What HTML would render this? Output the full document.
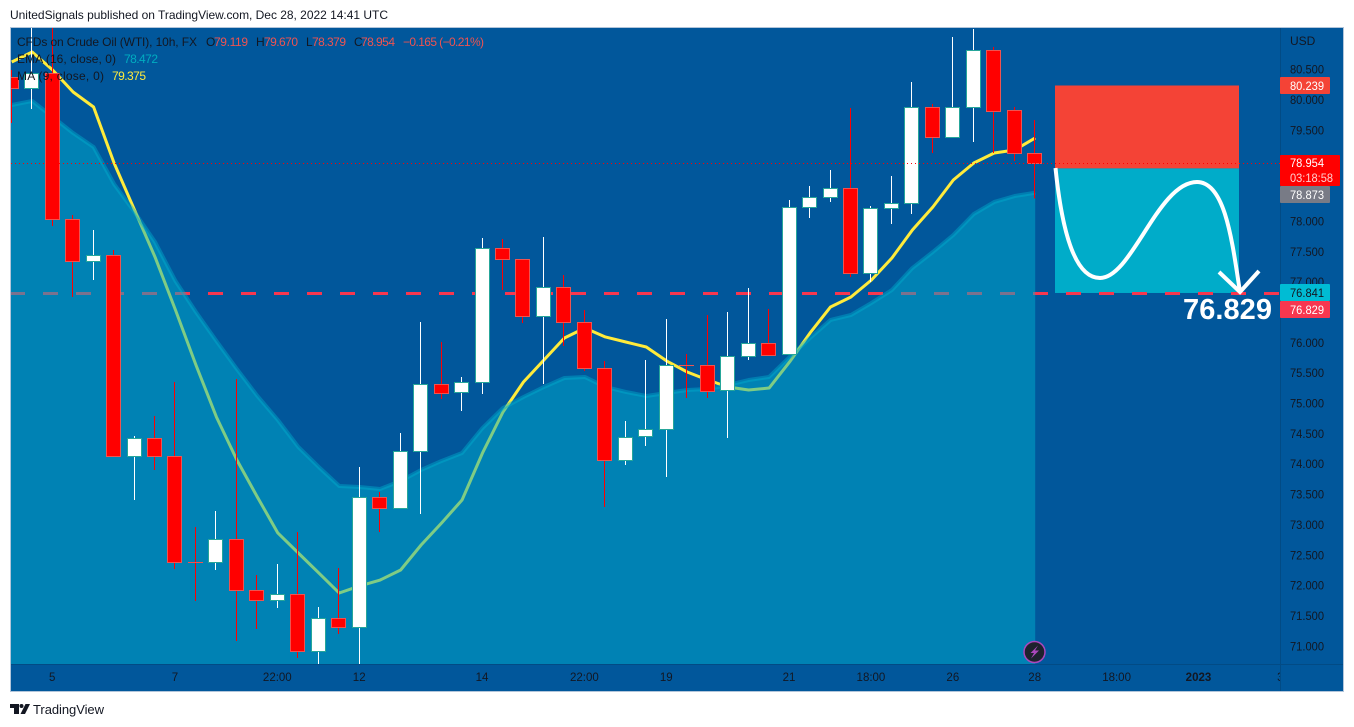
<!DOCTYPE html>
<html lang="en">
<head>
<meta charset="utf-8">
<title>CFDs on Crude Oil (WTI) chart</title>
<style>
html,body{margin:0;padding:0;background:#fff;width:1354px;height:727px;overflow:hidden}
svg{display:block;font-family:"Liberation Sans",sans-serif}
</style>
</head>
<body>
<svg id="chart" xmlns="http://www.w3.org/2000/svg" width="1354" height="727" viewBox="0 0 1354 727">
  <defs>
    <clipPath id="plot-clip"><rect x="11" y="28" width="1269" height="636"/></clipPath>
    <clipPath id="time-clip"><rect x="11" y="664" width="1269" height="27"/></clipPath>
  </defs>
  <text x="10" y="19" font-size="12" fill="#131722" textLength="378" lengthAdjust="spacing">UnitedSignals published on TradingView.com, Dec 28, 2022 14:41 UTC</text>
  <rect x="10.5" y="27.5" width="1333" height="664" fill="#01579b" stroke="#b2c5da" stroke-width="1"/>
  <g id="under-layer" clip-path="url(#plot-clip)"></g>
  <g id="candle-layer" clip-path="url(#plot-clip)"></g>
  <line x1="11" x2="1280" y1="163.5" y2="163.5" stroke="#ff0000" stroke-width="1" stroke-dasharray="1 3"/>
  <g fill="none" stroke="#ffffff" stroke-width="4" stroke-linecap="butt" stroke-linejoin="miter">
    <path d="M1055.5,168 C1062,232 1075,278 1100,278 C1132,278 1158,182 1197,182 C1225,182 1232,240 1240,292"/>
    <path d="M1219,272 L1240,292 L1259,271"/>
  </g>
  <text x="1183" y="319" font-size="29" font-weight="bold" fill="#ffffff" textLength="89" lengthAdjust="spacing">76.829</text>

  <line x1="1280.5" x2="1280.5" y1="28" y2="691" stroke="#024b85" stroke-width="1"/>
  <line x1="11" x2="1343" y1="664.5" y2="664.5" stroke="#024b85" stroke-width="1"/>
  <g id="price-axis" font-size="12" fill="#131722"></g>
  <g id="time-axis" font-size="11.5" fill="#131722" text-anchor="middle" clip-path="url(#time-clip)"></g>
  <text x="1290" y="45" font-size="12" fill="#131722">USD</text>

  <g font-size="12" fill="#131722">
    <text x="17" y="46" textLength="180" lengthAdjust="spacing">CFDs on Crude Oil (WTI), 10h, FX</text>
    <text x="206" y="46">O</text>
    <text x="214" y="46" fill="#ef5350" textLength="34" lengthAdjust="spacing">79.119</text>
    <text x="256" y="46">H</text>
    <text x="264" y="46" fill="#ef5350" textLength="34" lengthAdjust="spacing">79.670</text>
    <text x="306" y="46">L</text>
    <text x="312" y="46" fill="#ef5350" textLength="34" lengthAdjust="spacing">78.379</text>
    <text x="354" y="46">C</text>
    <text x="361" y="46" fill="#ef5350" textLength="34" lengthAdjust="spacing">78.954</text>
    <text x="403" y="46" fill="#ef5350" textLength="81" lengthAdjust="spacing">−0.165 (−0.21%)</text>
    <text x="17" y="63" textLength="99" lengthAdjust="spacing">EMA (16, close, 0)</text>
    <text x="124" y="63" fill="#00acc1" textLength="34" lengthAdjust="spacing">78.472</text>
    <text x="17" y="80" textLength="87" lengthAdjust="spacing">MA (9, close, 0)</text>
    <text x="112" y="80" fill="#ffeb3b" textLength="34" lengthAdjust="spacing">79.375</text>
  </g>

  <g font-size="12">
    <g><rect x="1280" y="77" width="50" height="17" rx="1" fill="#f44336"/><text x="1290" y="90" fill="#ffffff" textLength="34" lengthAdjust="spacingAndGlyphs">80.239</text></g>
    <g><rect x="1280" y="155" width="60" height="31" rx="1" fill="#ff0000"/><text x="1290" y="167" fill="#ffffff" textLength="34" lengthAdjust="spacingAndGlyphs">78.954</text><text x="1290" y="182" fill="#ffd0d0" textLength="43" lengthAdjust="spacingAndGlyphs">03:18:58</text></g>
    <g><rect x="1280" y="186" width="50" height="17" rx="1" fill="#787b86"/><text x="1290" y="199" fill="#ffffff" textLength="34" lengthAdjust="spacingAndGlyphs">78.873</text></g>
    <g><rect x="1280" y="284" width="50" height="17" rx="1" fill="#00bcd4"/><text x="1290" y="297" fill="#131722" textLength="34" lengthAdjust="spacingAndGlyphs">76.841</text></g>
    <g><rect x="1280" y="301" width="50" height="17" rx="1" fill="#f7374f"/><text x="1290" y="314" fill="#ffffff" textLength="34" lengthAdjust="spacingAndGlyphs">76.829</text></g>
  </g>

  <g>
    <circle cx="1034.5" cy="652" r="10.5" fill="#1e222d" stroke="#ab47bc" stroke-width="1.5"/>
    <path d="M1038,645.5 L1030.5,653 L1034,653 L1031,658.5 L1039,650.5 L1035,650.5 Z" fill="#ab47bc"/>
  </g>

  <g>
    <path d="M10,704 H19 V714 H14 V708 H10 Z M25.5,704 H30 L25,714 H20.5 Z" fill="#131722"/>
    <circle cx="21.5" cy="706" r="2" fill="#131722"/>
    <text x="33" y="714" font-size="13" fill="#131722" textLength="71" lengthAdjust="spacing">TradingView</text>
  </g>
</svg>
<script>
// Candle values
const opens  = [80.379,80.198,80.445,78.040,77.348,77.447,74.135,74.432,74.135,72.389,72.389,72.768,71.928,71.763,71.862,70.923,71.466,71.318,73.460,73.279,74.217,75.321,75.190,75.354,77.562,77.381,76.442,76.919,76.343,75.585,74.069,74.465,74.580,75.634,75.634,75.222,75.783,75.997,75.816,78.237,78.402,78.550,77.150,78.221,78.303,79.885,79.390,79.885,80.824,79.835,79.119];
const highs  = [80.494,81.186,81.186,78.105,77.858,77.529,74.465,74.794,75.354,72.966,73.229,75.404,72.175,72.356,72.883,71.648,72.290,73.954,73.542,74.514,76.343,76.013,75.437,77.727,77.710,77.381,77.743,77.117,76.540,75.700,74.712,75.717,76.392,75.816,76.458,76.507,76.903,76.557,78.353,78.583,78.847,79.868,78.254,78.748,80.297,79.934,81.038,81.170,80.873,79.885,79.670];
const lows   = [79.621,79.852,77.924,76.755,77.035,74.135,73.410,73.905,72.274,71.746,72.257,71.087,71.285,71.631,70.807,70.610,71.203,70.610,72.883,73.279,73.180,75.074,74.876,75.157,76.870,76.326,75.321,75.947,75.535,73.295,73.987,74.300,73.789,75.091,75.091,74.432,75.717,75.799,75.816,78.056,78.320,77.084,77.002,77.957,78.122,79.127,79.390,79.308,79.127,78.995,78.379];
const closes = [80.198,80.445,78.040,77.348,77.447,74.135,74.432,74.135,72.389,72.389,72.768,71.928,71.763,71.862,70.923,71.466,71.318,73.460,73.279,74.217,75.321,75.173,75.354,77.562,77.381,76.442,76.919,76.343,75.585,74.069,74.448,74.580,75.634,75.634,75.206,75.783,75.997,75.799,78.237,78.402,78.550,77.150,78.221,78.303,79.885,79.390,79.885,80.824,79.819,79.127,78.954];

// Indicator series
const emaValues = [79.918,79.984,79.720,79.456,79.226,78.616,78.155,77.661,77.018,76.507,76.030,75.568,75.124,74.728,74.284,73.954,73.641,73.625,73.592,73.723,73.905,74.053,74.185,74.596,74.926,75.107,75.272,75.420,75.437,75.272,75.190,75.124,75.173,75.222,75.239,75.305,75.387,75.437,75.766,76.079,76.376,76.458,76.656,76.870,77.232,77.496,77.776,78.122,78.320,78.418,78.472];
const maValues  = [80.626,80.791,80.494,80.132,79.885,78.962,78.188,77.414,76.540,75.634,74.778,74.069,73.460,72.867,72.537,72.208,71.878,71.994,72.092,72.257,72.669,73.032,73.410,74.185,74.860,75.354,75.717,76.079,76.244,76.096,76.013,75.931,75.700,75.519,75.387,75.272,75.222,75.255,75.684,76.162,76.590,76.755,77.035,77.397,77.858,78.237,78.682,78.962,79.127,79.176,79.375];

// Axis labels
const priceTicks = [80.5,80,79.5,79,78.5,78,77.5,77,76.5,76,75.5,75,74.5,74,73.5,73,72.5,72,71.5,71];
const timeLabels = ["5","7","22:00","12","14","22:00","19","21","18:00","26","28","18:00","2023","3"];
const timeBars   = [2,8,13,17,23,28,32,38,42,46,50,54,58,62];

// Trade levels
const stopPrice = 80.239;
const entryPrice = 78.873;
const targetPrice = 76.829;

// Axis functions
function xOf(i){ return 11.21 + i * 20.47; }
function yOf(p){ return 100 + (80 - p) * 60.7; }

const SVG_NS = "http://www.w3.org/2000/svg";
function make(tag, parent, attrs){
  const el = document.createElementNS(SVG_NS, tag);
  for (const k in attrs) el.setAttribute(k, attrs[k]);
  parent.appendChild(el);
  return el;
}
function polyPoints(values){
  return values.map(function(v,i){ return (xOf(i) + 0.5).toFixed(2) + "," + yOf(v).toFixed(2); }).join(" ");
}

const under = document.getElementById("under-layer");
const candleLayer = document.getElementById("candle-layer");
const priceAxis = document.getElementById("price-axis");
const timeAxis = document.getElementById("time-axis");

// Moving-average line sits beneath the EMA area
const maLine = make("polyline", under, {points: polyPoints(maValues), fill: "none", stroke: "#ffeb3b", "stroke-width": 3, "stroke-linejoin": "round"});



// Risk / reward boxes
const boxX = 1055;
const boxW = 184;
const stopBox = make("rect", under, {x: boxX, y: yOf(stopPrice), width: boxW, height: yOf(entryPrice) - yOf(stopPrice), fill: "#f44336"});


const targetBox = make("rect", under, {x: boxX, y: yOf(entryPrice), width: boxW, height: yOf(targetPrice) - yOf(entryPrice) + 0.5, fill: "#00acc9"});



// Target price dashed line
const targetLine = make("line", under, {x1: 10, x2: 1280, y1: yOf(targetPrice) + 1, y2: yOf(targetPrice) + 1, stroke: "#f7374f", "stroke-width": 3, "stroke-dasharray": "15 18"});



// EMA area, drawn translucent over the MA and target lines
const lastEmaX = (xOf(emaValues.length - 1) + 0.5).toFixed(2);
const emaArea = make("polygon", under, {points: "11,664 11," + yOf(emaValues[0]).toFixed(2) + " " + polyPoints(emaValues) + " " + lastEmaX + ",664", fill: "#00aecd", "fill-opacity": 0.5});


const emaLine = make("polyline", under, {points: polyPoints(emaValues), fill: "none", stroke: "#00aecd", "stroke-opacity": 0.45, "stroke-width": 4, "stroke-linejoin": "round"});



// Candles
opens.forEach(function(o, i){
  const c = closes[i];
  const up = c > o;
  const cx = Math.floor(xOf(i)) + 0.5;
  const wick = make("line", candleLayer, {x1: cx, x2: cx, y1: yOf(highs[i]), y2: yOf(lows[i]), stroke: up ? "#ffffff" : "#ff0000", "stroke-width": 1, "shape-rendering": "crispEdges"});
  
  
  const top = yOf(Math.max(o, c));
  const h = Math.abs(yOf(o) - yOf(c));
  let body;
  if (h < 1) {
    body = make("rect", candleLayer, {x: cx - 7.5, y: Math.round(top), width: 15, height: 1, fill: "#ef5350", "shape-rendering": "crispEdges"});
  } else {
    body = make("rect", candleLayer, {x: cx - 7, y: Math.round(top) + 0.5, width: 14, height: Math.round(h), fill: up ? "#ffffff" : "#ff0000", stroke: up ? "#26a69a" : "#ef5350", "stroke-width": 1, "shape-rendering": "crispEdges"});
  }
  
  
});

// Price axis labels
priceTicks.forEach(function(p){
  const t = make("text", priceAxis, {x: 1290, y: yOf(p) + 4, textLength: 34, lengthAdjust: "spacingAndGlyphs"});
  t.textContent = p.toFixed(3);
  
  
});

// Time axis labels
timeLabels.forEach(function(label, i){
  const t = make("text", timeAxis, {x: xOf(timeBars[i]), y: 681});
  t.textContent = label;
  if (label === "2023") t.setAttribute("font-weight", "bold");
  
  
});
</script>
</body>
</html>
